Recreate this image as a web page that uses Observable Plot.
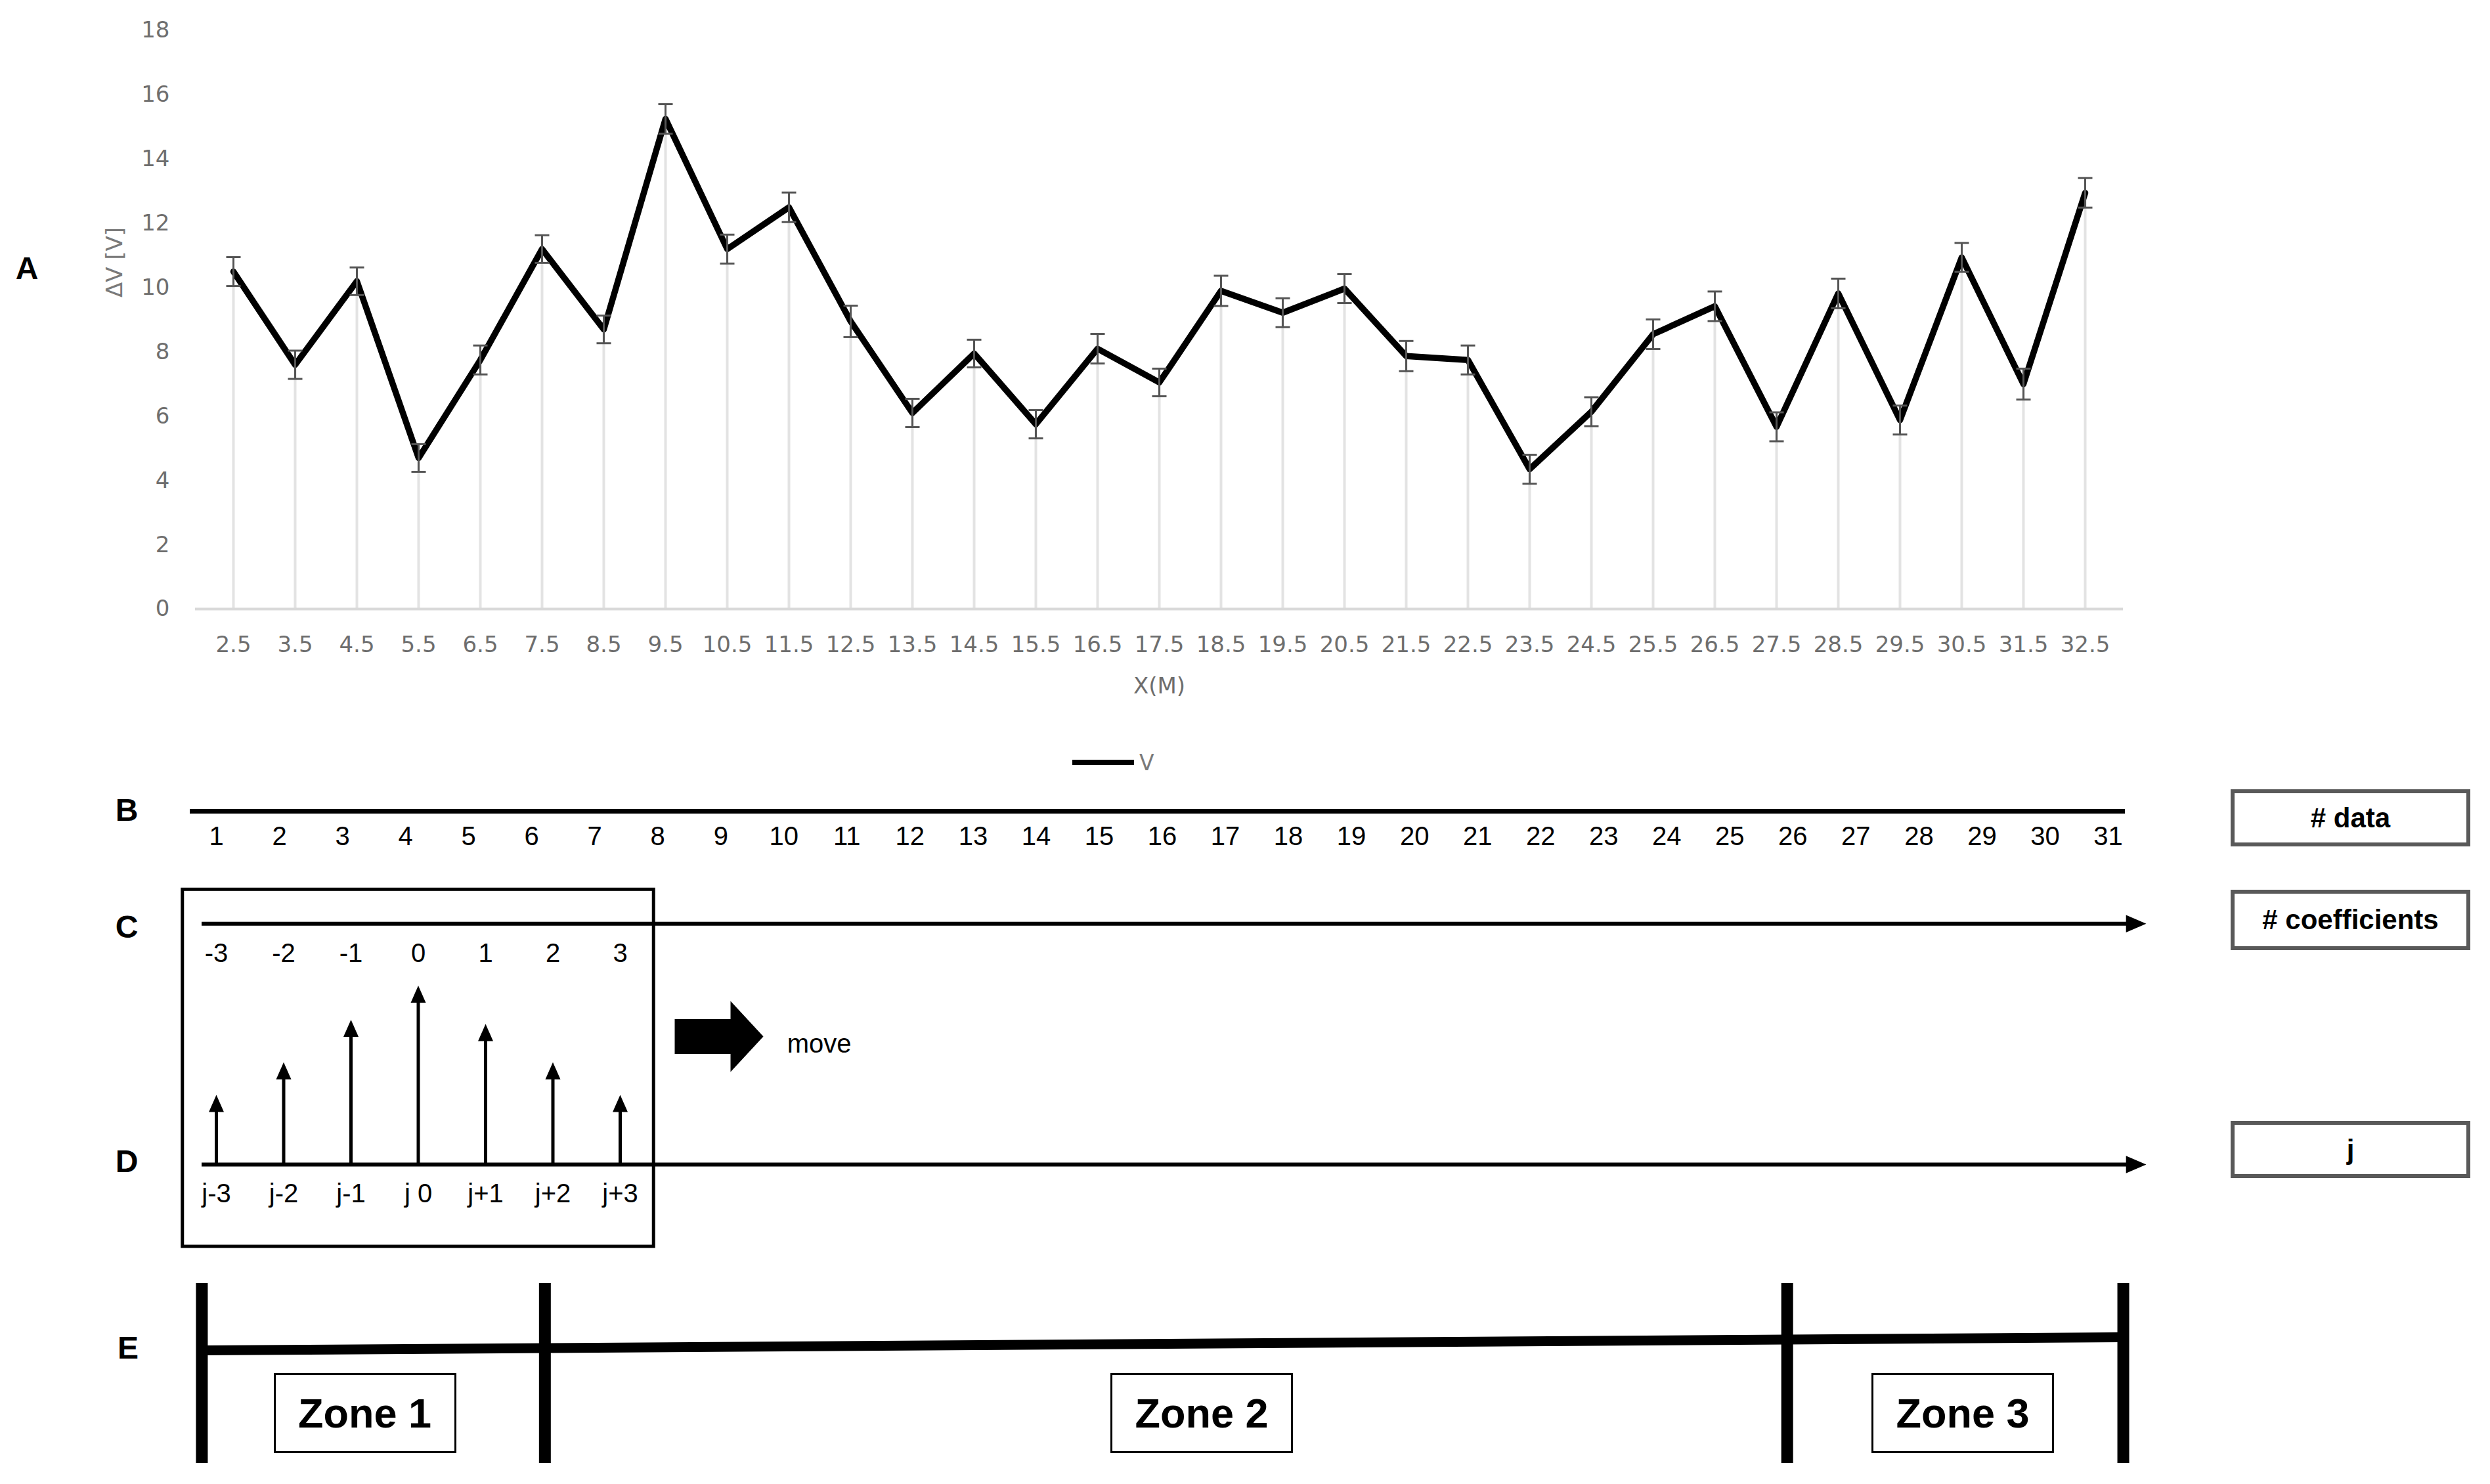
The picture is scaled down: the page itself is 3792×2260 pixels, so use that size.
<!DOCTYPE html>
<html>
<head>
<meta charset="utf-8">
<script src="https://cdn.jsdelivr.net/npm/d3@7"></script>
<script src="https://cdn.jsdelivr.net/npm/@observablehq/plot@0.6"></script>
<style>
  body { margin: 0; background: #fff; }
  #root { position: relative; width: 3792px; height: 2260px; overflow: hidden; background: #fff;
          font-family: "Liberation Sans", Arial, sans-serif; color: #000; }
  #root svg { position: absolute; left: 0; }
  .letter { position: absolute; font-weight: bold; font-size: 48px; line-height: 1; transform: translate(-50%, -50%); }
  .rbox { position: absolute; box-sizing: border-box; border: 6px solid #595959; display: flex;
          align-items: center; justify-content: center; font-weight: bold; font-size: 42px; }
  .zbox { position: absolute; box-sizing: border-box; border: 3px solid #000; display: flex; background: #fff;
          align-items: center; justify-content: center; font-weight: bold; font-size: 63px; }
</style>
</head>
<body>
<div id="root"></div>
<script>
// ---------------- DATA ----------------
const xLabels = ["2.5","3.5","4.5","5.5","6.5","7.5","8.5","9.5","10.5","11.5","12.5","13.5","14.5","15.5","16.5",
                 "17.5","18.5","19.5","20.5","21.5","22.5","23.5","24.5","25.5","26.5","27.5","28.5","29.5","30.5","31.5","32.5"];
const dV    = [10.5, 7.6, 10.2, 4.7, 7.75, 11.2, 8.7, 15.25, 11.2, 12.5, 8.95, 6.1, 7.95, 5.75, 8.1,
               7.05, 9.9, 9.22, 9.97, 7.87, 7.75, 4.35, 6.14, 8.55, 9.42, 5.67, 9.82, 5.88, 10.94, 7.0, 12.95];
const dVErr = [0.45, 0.44, 0.43, 0.43, 0.45, 0.43, 0.43, 0.46, 0.45, 0.46, 0.49, 0.44, 0.43, 0.44, 0.46,
               0.43, 0.47, 0.45, 0.45, 0.47, 0.45, 0.45, 0.45, 0.46, 0.46, 0.45, 0.46, 0.45, 0.45, 0.48, 0.46];
const yTicks = [0, 2, 4, 6, 8, 10, 12, 14, 16, 18];
const yTitle = "ΔV [V]";
const xTitle = "X(M)";
const legendLabel = "V";

const dataIndex = [1,2,3,4,5,6,7,8,9,10,11,12,13,14,15,16,17,18,19,20,21,22,23,24,25,26,27,28,29,30,31];

const coeffOffsets = [-3, -2, -1, 0, 1, 2, 3];
const coeffLabels  = ["-3", "-2", "-1", "0", "1", "2", "3"];
const jLabels      = ["j-3", "j-2", "j-1", "j 0", "j+1", "j+2", "j+3"];
const coeffWeights = [1.0, 1.47, 2.08, 2.57, 2.02, 1.47, 1.0];
const moveLabel = "move";

const zoneBounds = [0.77, 6.21, 25.91, 31.24];
const zoneNames  = ["Zone 1", "Zone 2", "Zone 3"];
const zoneLabelAt = [3.36, 16.63, 28.7];

const rowLetters = ["A", "B", "C", "D", "E"];
const sideBoxes  = ["# data", "# coefficients", "j"];

// ---------------- LAYOUT ----------------
const root = document.getElementById("root");
const W = 3792;
const transparent = {background: "transparent", overflow: "visible"};
function place(svg, top) { svg.style.top = top + "px"; svg.style.position = "absolute"; root.appendChild(svg); return svg; }

// ---------- Chart A ----------
const capSymbol = {draw(ctx) { ctx.moveTo(-11, 0); ctx.lineTo(11, 0); }};
const ptsA = xLabels.map((x, i) => ({x, v: dV[i], e: dVErr[i]}));
const plotA = Plot.plot({
  width: W, height: 1077,
  marginTop: 46, marginBottom: 150, marginLeft: 297, marginRight: W - 3233,
  style: {...transparent, fontFamily: "'DejaVu Sans', sans-serif", fontSize: "34px", color: "#6e6e6e"},
  x: {type: "point", domain: xLabels, range: [343, 3186], padding: 0},
  y: {domain: [0, 18]},
  marks: [
    Plot.ruleX(ptsA, {x: "x", y1: 0, y2: "v", stroke: "#e3e3e3", strokeWidth: 4}),
    Plot.ruleY([0], {stroke: "#d9d9d9", strokeWidth: 4}),
    Plot.line(ptsA, {x: "x", y: "v", stroke: "#000", strokeWidth: 9.5, strokeLinejoin: "round"}),
    Plot.ruleX(ptsA, {x: "x", y1: d => d.v - d.e, y2: d => d.v + d.e, stroke: "#555", strokeWidth: 3}),
    Plot.dot(ptsA, {x: "x", y: d => d.v + d.e, symbol: capSymbol, fill: "none", stroke: "#555", strokeWidth: 3}),
    Plot.dot(ptsA, {x: "x", y: d => d.v - d.e, symbol: capSymbol, fill: "none", stroke: "#555", strokeWidth: 3}),
    Plot.axisY({ticks: yTicks, tickSize: 0, tickPadding: 39, fontSize: 34, label: null}),
    Plot.axisX({tickSize: 0, tickPadding: 41, fontSize: 34, label: null}),
    Plot.text([xTitle], {frameAnchor: "bottom", dy: 118, fontSize: 34, fill: "#6e6e6e", lineAnchor: "middle"}),
    Plot.text([yTitle], {frameAnchor: "left", dx: -122, dy: -34, rotate: -90, fontSize: 34, fill: "#7a7a7a", lineAnchor: "middle"})
  ]
});
place(plotA, 0);

// legend
const leg = document.createElement("div");
leg.style.cssText = "position:absolute;left:1633px;top:1157px;width:94px;height:8px;background:#000;";
root.appendChild(leg);
const legT = document.createElement("div");
legT.textContent = legendLabel;
legT.style.cssText = "position:absolute;left:1735px;top:1161px;transform:translateY(-50%);font-family:'DejaVu Sans',sans-serif;font-size:33px;line-height:1;color:#7a7a7a;";
root.appendChild(legT);

// ---------- Row B : data index ----------
const fontD = "'Liberation Sans', Arial, sans-serif";
const plotB = Plot.plot({
  width: W, height: 110, marginTop: 0, marginBottom: 0, marginLeft: 289, marginRight: W - 3236,
  axis: null,
  style: {...transparent, fontFamily: fontD},
  x: {domain: [1, 31], range: [329, 3210]},
  y: {domain: [0, 1], range: [40, 100]},
  marks: [
    Plot.ruleY([0], {stroke: "#000", strokeWidth: 7}),
    Plot.text(dataIndex, {x: d => d, y: 0, dy: 39, text: d => String(d), fontSize: 40, fill: "#000", lineAnchor: "middle"})
  ]
});
place(plotB, 1195);

// ---------- Rows C + D : coefficients / window ----------
const arrowUp = {draw(ctx, size) { const r = Math.sqrt(size / Math.PI);
  ctx.moveTo(0, 0); ctx.lineTo(1.15 * r, 2.6 * r); ctx.lineTo(-1.15 * r, 2.6 * r); ctx.closePath(); }};
const arrowRight = {draw(ctx, size) { const r = Math.sqrt(size / Math.PI);
  ctx.moveTo(0, 0); ctx.lineTo(-2.8 * r, -1.2 * r); ctx.lineTo(-2.8 * r, 1.2 * r); ctx.closePath(); }};
const blockArrow = {draw(ctx) {
  ctx.moveTo(0, 0); ctx.lineTo(-50, -54); ctx.lineTo(-50, -26.5); ctx.lineTo(-135, -26.5);
  ctx.lineTo(-135, 26.5); ctx.lineTo(-50, 26.5); ctx.lineTo(-50, 54); ctx.closePath(); }};

const coeffs = coeffOffsets.map((k, i) => ({k, w: coeffWeights[i], c: coeffLabels[i], j: jLabels[i]}));
const cLevel = 3.46;
const windowBox = [{x1: coeffOffsets[0] - 0.5, x2: coeffOffsets[coeffOffsets.length - 1] + 0.5, y1: -1.18, y2: 3.95}];

const plotCD = Plot.plot({
  width: W, height: 650, marginTop: 0, marginBottom: 0, marginLeft: 307, marginRight: W - 3268,
  axis: null,
  style: {...transparent, fontFamily: fontD},
  x: {domain: [-3, 3], range: [329, 944]},
  y: {domain: [0, 1], range: [473, 367]},
  marks: [
    Plot.rect(windowBox, {x1: "x1", x2: "x2", y1: "y1", y2: "y2", fill: "none", stroke: "#000", strokeWidth: 5}),
    Plot.ruleY([0, cLevel], {stroke: "#000", strokeWidth: 6, insetRight: 12}),
    Plot.dot([0, cLevel], {y: d => d, frameAnchor: "right", symbol: arrowRight, r: 11, fill: "#000", stroke: null}),
    Plot.ruleX(coeffs, {x: "k", y1: "w", y2: 0, stroke: "#000", strokeWidth: 5, insetTop: 14}),
    Plot.dot(coeffs, {x: "k", y: "w", symbol: arrowUp, r: 10, fill: "#000", stroke: null}),
    Plot.text(coeffs, {x: "k", y: cLevel, dy: 45, text: "c", fontSize: 40, fill: "#000", lineAnchor: "middle"}),
    Plot.text(coeffs, {x: "k", y: 0, dy: 45, text: "j", fontSize: 40, fill: "#000", lineAnchor: "middle"}),
    Plot.dot([{x: 5.127, y: 1.84}], {x: "x", y: "y", symbol: blockArrow, fill: "#000", stroke: null}),
    Plot.text([moveLabel], {x: 5.48, y: 1.73, text: d => d, textAnchor: "start", fontSize: 40, fill: "#000", lineAnchor: "middle"})
  ]
});
place(plotCD, 1300);

// ---------- Row E : zones ----------
const eLine = [{x1: zoneBounds[0], y1: -0.11, x2: zoneBounds[zoneBounds.length - 1], y2: 0.11}];
const plotE = Plot.plot({
  width: W, height: 320, marginTop: 24, marginBottom: 22, marginLeft: 0, marginRight: 0,
  axis: null,
  style: {...transparent},
  x: {domain: [1, 31], range: [329, 3210]},
  y: {domain: [0, 1], range: [116, 24]},
  marks: [
    Plot.link(eLine, {x1: "x1", y1: "y1", x2: "x2", y2: "y2", stroke: "#000", strokeWidth: 15}),
    Plot.ruleX(zoneBounds, {x: d => d, stroke: "#000", strokeWidth: 18})
  ]
});
place(plotE, 1930);

const sxE = plotE.scale("x");
zoneNames.forEach((name, i) => {
  const cx = sxE.apply(zoneLabelAt[i]);
  const b = document.createElement("div");
  b.className = "zbox";
  b.textContent = name;
  b.style.left = (cx - 139) + "px";
  b.style.top = (2152 - 61) + "px";
  b.style.width = "278px";
  b.style.height = "122px";
  root.appendChild(b);
});

// ---------- Row letters ----------
const letterPos = [[41, 409], [193, 1234], [193, 1412], [193, 1769], [195, 2053]];
rowLetters.forEach((L, i) => {
  const d = document.createElement("div");
  d.className = "letter";
  d.textContent = L;
  d.style.left = letterPos[i][0] + "px";
  d.style.top = letterPos[i][1] + "px";
  root.appendChild(d);
});

// ---------- Side boxes ----------
const sideTops = [[1202, 1289], [1355, 1447], [1707, 1794]];
sideBoxes.forEach((t, i) => {
  const d = document.createElement("div");
  d.className = "rbox";
  d.textContent = t;
  d.style.left = "3397px";
  d.style.width = "365px";
  d.style.top = sideTops[i][0] + "px";
  d.style.height = (sideTops[i][1] - sideTops[i][0]) + "px";
  root.appendChild(d);
});
</script>
</body>
</html>
